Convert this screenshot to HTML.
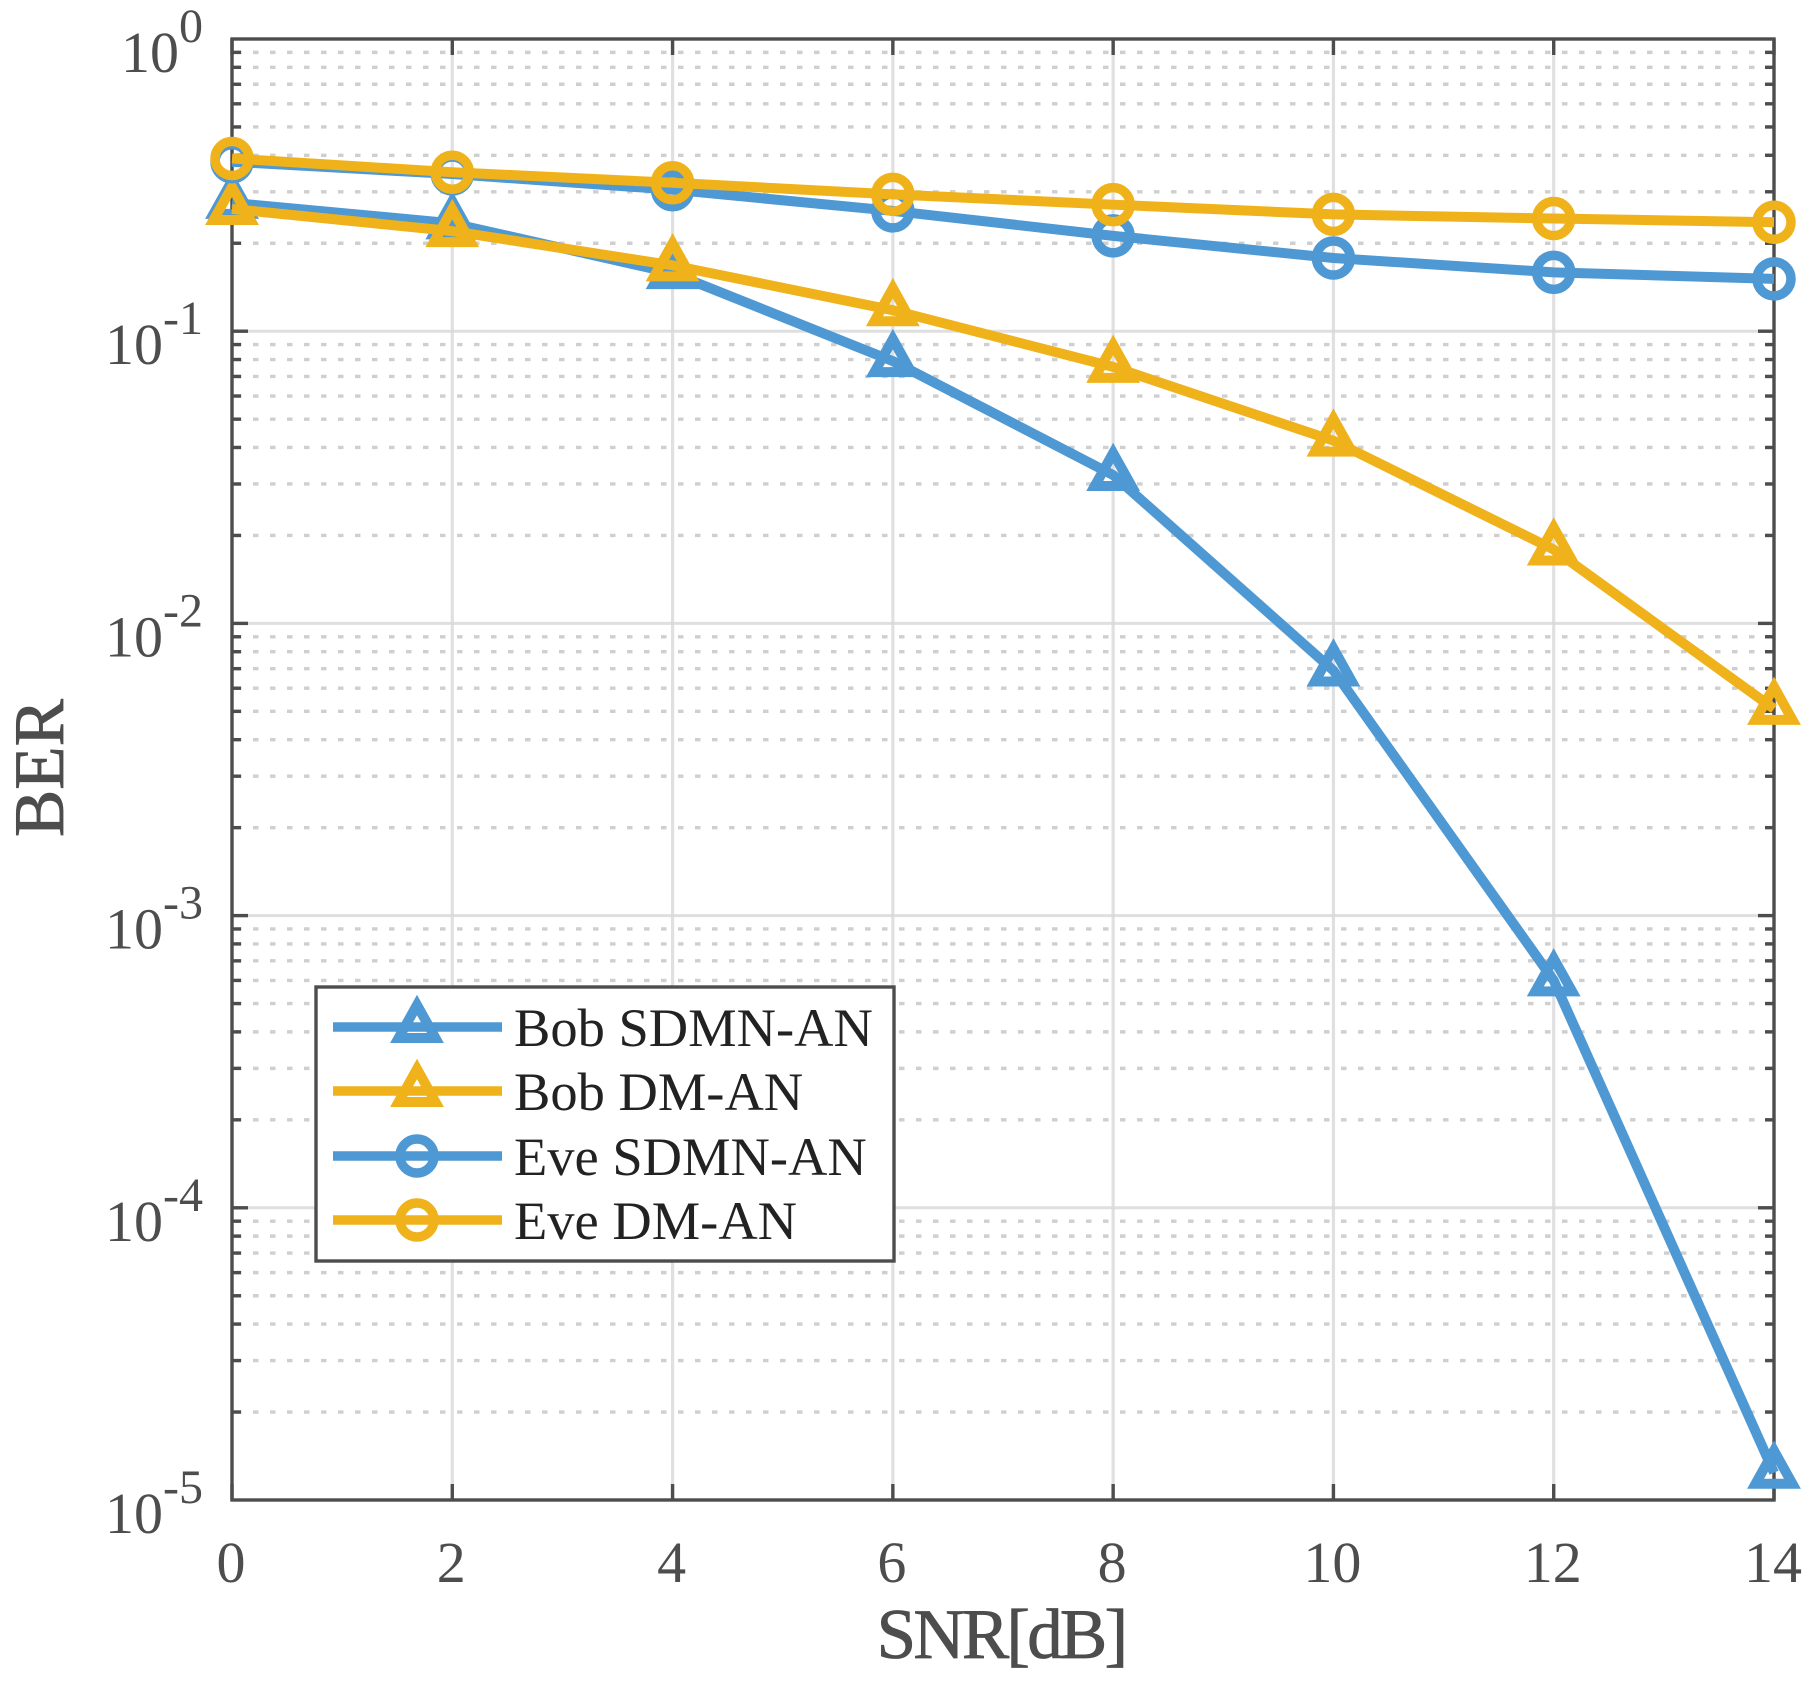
<!DOCTYPE html>
<html lang="en">
<head>
<meta charset="utf-8">
<title>BER vs SNR</title>
<style>
html,body{margin:0;padding:0;background:#fff;}
svg{display:block;}
text{font-family:"Liberation Serif","Times New Roman",serif;}
</style>
</head>
<body>
<svg id="chart" xmlns="http://www.w3.org/2000/svg" width="1816" height="1685" viewBox="0 0 1816 1685"></svg>
<script>
const snrValues = [0, 2, 4, 6, 8, 10, 12, 14];
const bobSdmnAn = [0.275, 0.234, 0.158, 0.079, 0.0322, 0.0069, 0.00060, 0.0000124];
const bobDmAn = [0.262, 0.220, 0.168, 0.118, 0.0755, 0.0422, 0.0179, 0.0051];
const eveSdmnAn = [0.380, 0.345, 0.305, 0.258, 0.212, 0.178, 0.159, 0.151];
const eveDmAn = [0.390, 0.350, 0.322, 0.294, 0.271, 0.251, 0.243, 0.236];
const xTickLabels = [0, 2, 4, 6, 8, 10, 12, 14];
const yTickExponents = [0, -1, -2, -3, -4, -5];
const minorMultipliers = [2, 3, 4, 5, 6, 7, 8, 9];
const seriesNames = ['Bob SDMN-AN', 'Bob DM-AN', 'Eve SDMN-AN', 'Eve DM-AN'];

const NS = 'http://www.w3.org/2000/svg';
const svg = document.getElementById('chart');
const plot = {left: 232, right: 1774, top: 39, bottom: 1500};
const BLUE = '#4e98d3';
const YELLOW = '#efb21a';
const AXIS = '#4d4d4d';

function xScale(v) { return plot.left + (v - 0) / 14 * (plot.right - plot.left); }
function yScale(v) { return plot.top + (0 - Math.log10(v)) / 5 * (plot.bottom - plot.top); }

function make(tag, attrs, parent) {
  const el = document.createElementNS(NS, tag);
  for (const k in attrs) el.setAttribute(k, attrs[k]);
  (parent || svg).appendChild(el);
  return el;
}

function addMarker(parent, kind, cx, cy, color) {
  if (kind === 'triangle') {
    const m = make('polygon', {
      points: `${cx},${cy - 22} ${cx + 18.4},${cy + 11} ${cx - 18.4},${cy + 11}`,
      fill: 'none', stroke: color, 'stroke-width': 10, 'stroke-linejoin': 'miter', 'stroke-miterlimit': 10
    }, parent);
    
    
  } else {
    const m = make('circle', {cx: cx, cy: cy, r: 17, fill: 'none', stroke: color, 'stroke-width': 9.5}, parent);
    
    
  }
}

/* grid */
const grid = make('g', {});


yTickExponents.forEach(function (exp) {
  if (exp > -5) {
    minorMultipliers.forEach(function (mult) {
      const y = yScale(mult * Math.pow(10, exp - 1));
      const l = make('line', {x1: plot.left + 4, x2: plot.right, y1: y, y2: y, stroke: '#cfcfcf', 'stroke-width': 3.4, 'stroke-dasharray': '5.5 11.5'}, grid);
      
      
    });
  }
  if (exp !== 0 && exp !== -5) {
    const y = yScale(Math.pow(10, exp));
    const l = make('line', {x1: plot.left, x2: plot.right, y1: y, y2: y, stroke: '#dcdcdc', 'stroke-width': 3, 'stroke-opacity': 0.9}, grid);
    
    
  }
});
xTickLabels.forEach(function (t) {
  if (t !== 0 && t !== 14) {
    const x = xScale(t);
    const l = make('line', {x1: x, x2: x, y1: plot.top, y2: plot.bottom, stroke: '#d8d8dc', 'stroke-width': 3.2, 'stroke-opacity': 0.8}, grid);
    
    
  }
});

/* axes and ticks */
const axes = make('g', {});


const frame = make('rect', {x: plot.left, y: plot.top, width: plot.right - plot.left, height: plot.bottom - plot.top, fill: 'none', stroke: AXIS, 'stroke-width': 3.4}, axes);



xTickLabels.forEach(function (t) {
  const x = xScale(t);
  [[plot.bottom, plot.bottom - 16], [plot.top, plot.top + 16]].forEach(function (p) {
    const l = make('line', {x1: x, x2: x, y1: p[0], y2: p[1], stroke: AXIS, 'stroke-width': 3.4}, axes);
    
    
  });
  const label = make('text', {x: x - 1, y: 1582, 'text-anchor': 'middle', 'font-size': 58, fill: AXIS}, axes);
  
  
  label.textContent = t;
});

yTickExponents.forEach(function (exp) {
  const y = yScale(Math.pow(10, exp));
  if (exp !== 0 && exp !== -5) {
    [[plot.left, plot.left + 16], [plot.right, plot.right - 16]].forEach(function (p) {
      const l = make('line', {x1: p[0], x2: p[1], y1: y, y2: y, stroke: AXIS, 'stroke-width': 3.4}, axes);
      
      
    });
  }
  if (exp > -5) {
    minorMultipliers.forEach(function (mult) {
      const my = yScale(mult * Math.pow(10, exp - 1));
      [[plot.left, plot.left + 9], [plot.right, plot.right - 9]].forEach(function (p) {
        const l = make('line', {x1: p[0], x2: p[1], y1: my, y2: my, stroke: AXIS, 'stroke-width': 3.4}, axes);
        
        
      });
    });
  }
  const label = make('text', {x: 203, y: y + 33, 'text-anchor': 'end', 'font-size': 58, fill: AXIS}, axes);
  
  
  const base = make('tspan', {}, label);
  base.textContent = '10';
  const sup = make('tspan', {dy: -30, 'font-size': 48}, label);
  sup.textContent = String(exp);
});

/* series */
const seriesList = [
  {values: bobSdmnAn, color: BLUE, marker: 'triangle'},
  {values: bobDmAn, color: YELLOW, marker: 'triangle'},
  {values: eveSdmnAn, color: BLUE, marker: 'circle'},
  {values: eveDmAn, color: YELLOW, marker: 'circle'}
];
seriesList.forEach(function (s, i) {
  const g = make('g', {});
  
  
  const pts = snrValues.map(function (x, j) { return xScale(x) + ',' + yScale(s.values[j]); }).join(' ');
  const line = make('polyline', {points: pts, fill: 'none', stroke: s.color, 'stroke-width': 10, 'stroke-linejoin': 'round'}, g);
  
  
  snrValues.forEach(function (x, j) {
    addMarker(g, s.marker, xScale(x), yScale(s.values[j]), s.color);
  });
});

/* legend */
const legend = make('g', {});


const legendBox = make('rect', {x: 316, y: 987, width: 578, height: 274, fill: '#fff', stroke: AXIS, 'stroke-width': 3.4}, legend);


const legendRows = [1027, 1091, 1156, 1220];
seriesList.forEach(function (s, i) {
  const g = make('g', {}, legend);
  
  
  const y = legendRows[i];
  const l = make('line', {x1: 333, x2: 502, y1: y, y2: y, stroke: s.color, 'stroke-width': 9.5}, g);
  
  
  addMarker(g, s.marker, 417, y, s.color);
  const t = make('text', {x: 514, y: y + 19, 'font-size': 54.5, fill: '#222'}, g);
  
  
  t.textContent = seriesNames[i];
});

/* axis titles */
const xTitle = make('text', {x: 1001, y: 1658, 'text-anchor': 'middle', 'font-size': 71, 'letter-spacing': -2.8, fill: AXIS, stroke: AXIS, 'stroke-width': 0.8});


xTitle.textContent = 'SNR[dB]';
const yTitle = make('text', {x: 0, y: 0, transform: 'translate(63,768) rotate(-90)', 'text-anchor': 'middle', 'font-size': 71, fill: AXIS, stroke: AXIS, 'stroke-width': 0.8});


yTitle.textContent = 'BER';
</script>
</body>
</html>
